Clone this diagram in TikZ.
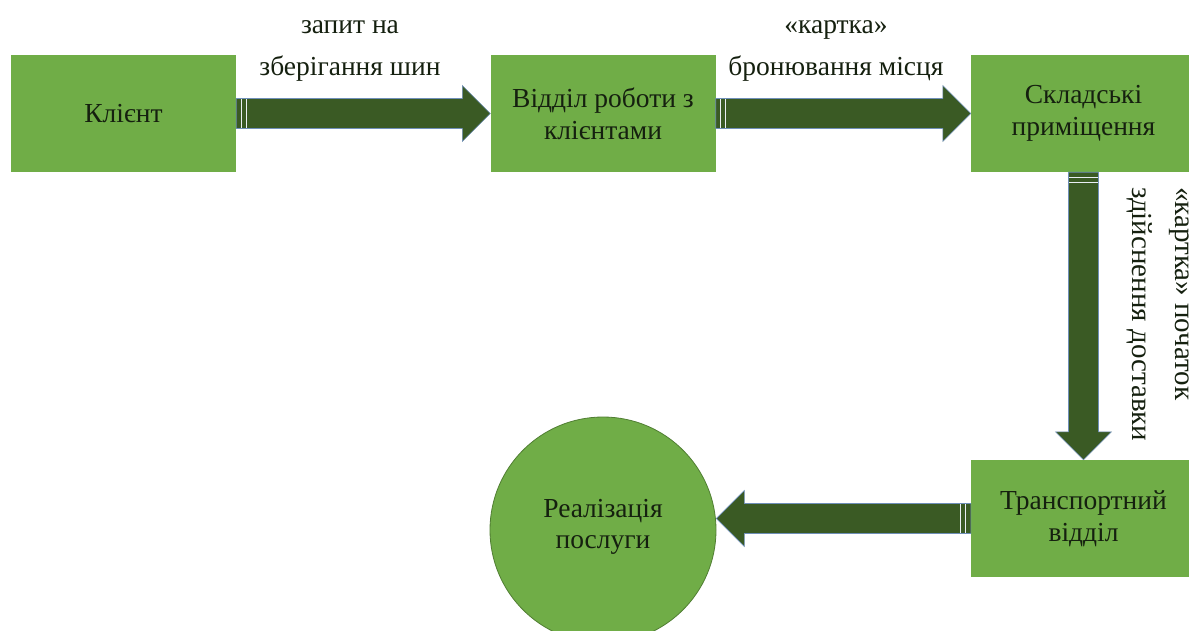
\documentclass[tikz,border=0pt]{standalone}
\usepackage{fontspec}
\setmainfont{Liberation Serif}
\usetikzlibrary{calc}
\definecolor{boxgreen}{HTML}{70AD47}
\definecolor{arrowdark}{HTML}{3A5A24}
\definecolor{arrowedge}{HTML}{6F8FB8}
\definecolor{circedge}{HTML}{507E32}
\definecolor{txt}{HTML}{15200F}
\tikzset{
  box/.style={rectangle, fill=boxgreen, minimum width=225pt, minimum height=117pt, align=center, text=txt, font=\fontsize{27.5}{32}\selectfont, inner sep=0pt},
  roundbox/.style={circle, fill=boxgreen, draw=circedge, line width=0.8pt, minimum size=226pt, inner sep=0pt},
  lbl/.style={align=center, text=txt, font=\fontsize{27.5}{42}\selectfont, inner sep=0pt},
  fatbody/.style={fill=arrowdark, draw=arrowedge, line width=0.6pt, line join=miter},
  stripe/.style={draw=white!85!arrowedge, line width=1.3pt}
}
\newcommand\fatarrow[2]{%
  \path (#1) coordinate (fa-s) (#2) coordinate (fa-e);
  \coordinate (fa-h) at ($(fa-e)!28pt!(fa-s)$);
  \coordinate (fa-t1) at ($(fa-s)!5pt!(fa-e)$);
  \coordinate (fa-t2) at ($(fa-s)!10pt!(fa-e)$);
  \path[fatbody] ($(fa-s)!15pt!90:(fa-e)$) -- ($(fa-h)!15pt!-90:(fa-s)$) -- ($(fa-h)!28pt!-90:(fa-s)$) -- (fa-e)
     -- ($(fa-h)!28pt!90:(fa-s)$) -- ($(fa-h)!15pt!90:(fa-s)$) -- ($(fa-s)!15pt!-90:(fa-e)$) -- cycle;
  \draw[stripe] ($(fa-t1)!14.5pt!90:(fa-e)$) -- ($(fa-t1)!14.5pt!-90:(fa-e)$);
  \draw[stripe] ($(fa-t2)!14.5pt!90:(fa-e)$) -- ($(fa-t2)!14.5pt!-90:(fa-e)$);
}
\begin{document}
\begin{tikzpicture}[x=1pt,y=-1pt]
\clip (0,0) rectangle (1189,630);
\fill[white] (0,0) rectangle (1189,630);
\node[box] (client) at (123.5,113.5) {Клієнт};
\node[box] (dept) at (603,113.5) {Відділ роботи з\\клієнтами};
\node[box] (store) at (1083.5,113.5) {Складські\\приміщення};
\node[box] (trans) at (1083.5,518.5) {Транспортний\\відділ};
\node[roundbox] (circ) at (603,530) {};
\node[lbl, font=\fontsize{27.5}{31}\selectfont] (circlbl) at (603,527) {Реалізація\\послуги};
\fatarrow{client.east}{dept.west}
\fatarrow{dept.east}{store.west}
\fatarrow{store.south}{trans.north}
\fatarrow{trans.west}{trans.west -| circ.east}
\node[lbl] (l1) at (350,51) {запит на\\зберігання шин};
\node[lbl] (l2) at (836,51) {«картка»\\бронювання місця};
\node[lbl, align=left, rotate=-90, anchor=west, font=\fontsize{29}{43}\selectfont] (l3) at (1158,187) {«картка» початок\\здійснення доставки};
\end{tikzpicture}
\end{document}
